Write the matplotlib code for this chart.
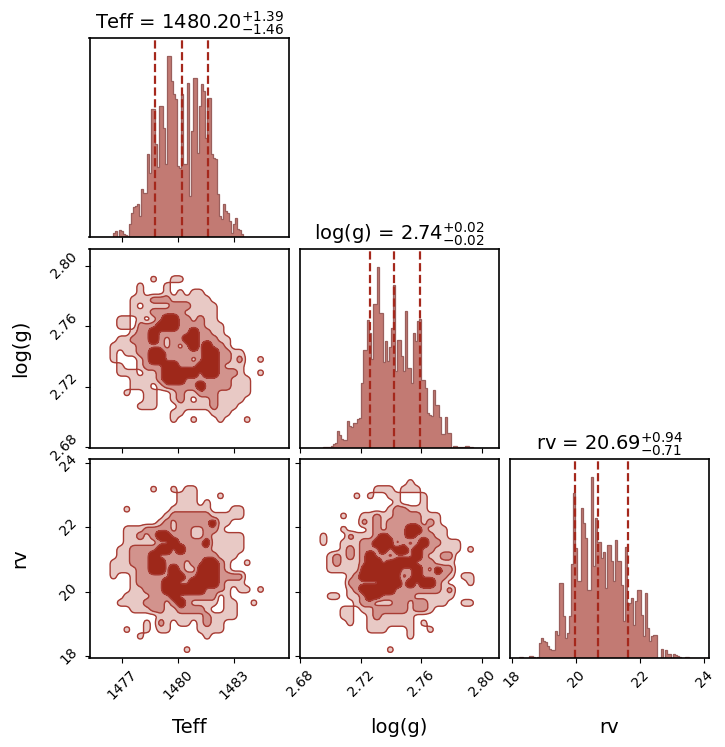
import numpy as np
import matplotlib
matplotlib.use('Agg')
from matplotlib import pyplot as plt

# parameter ranges shown on the axes
teff_lim = (1475.24, 1485.93)
logg_lim = (2.6796, 2.8113)
rv_lim = (17.93, 24.15)

teff_ticks = [1477, 1480, 1483]
logg_ticks = [2.68, 2.72, 2.76, 2.80]
rv_ticks = [18, 20, 22, 24]

# 16th, 50th and 84th percentiles
teff_q = [1478.74, 1480.20, 1481.59]
logg_q = [2.726, 2.742, 2.759]
rv_q = [19.98, 20.69, 21.63]

teff_counts = [0, 0, 0, 0, 0, 0, 0, 0, 0, 0, 0, 0,
               15, 20, 3, 23, 20, 10, 8, 5,
               40, 75, 92, 95, 100, 65, 145, 135, 133, 250,
               195, 385, 385, 282, 212, 395, 395, 330, 220, 545,
               545, 470, 430, 415, 215, 210, 430, 220, 220, 465,
               125, 320, 480, 480, 255, 395, 460, 440, 300, 420,
               420, 250, 240, 235, 130, 65, 55, 100, 80, 75,
               50, 15, 40, 60, 25, 22, 10, 3, 1, 0,
               0, 0, 3, 3, 3, 3, 1, 3, 3, 0,
               0, 0, 0, 0, 0, 0, 0, 0, 0, 0]

logg_counts = [0, 0, 0, 0, 0, 0, 0, 0, 0, 0, 0, 0,
               4, 4, 4, 4, 6, 12, 15, 50, 38, 28,
               25, 25, 82, 65, 62, 75, 75, 87, 90, 195,
               292, 292, 382, 345, 265, 432, 432, 543, 403, 403,
               258, 320, 260, 302, 360, 488, 232, 322, 322, 275,
               232, 410, 240, 240, 195, 345, 320, 380, 385, 205,
               205, 180, 105, 100, 95, 175, 130, 130, 92, 42,
               42, 93, 45, 45, 0, 6, 6, 2, 2, 2,
               2, 6, 6, 4, 2, 0, 0, 0, 0, 0,
               0, 0, 0, 0, 0, 0, 0, 0]

rv_counts = [0, 0, 0, 0, 0, 3, 3, 0, 0, 0,
             5, 5, 2, 0, 2, 45, 60, 50, 47, 35,
             28, 25, 25, 80, 70, 225, 225, 125, 60, 75,
             125, 282, 495, 330, 230, 230, 452, 405, 360, 205,
             205, 545, 275, 420, 350, 350, 300, 320, 210, 340,
             340, 290, 230, 355, 290, 290, 220, 110, 335, 160,
             165, 180, 100, 170, 205, 205, 130, 65, 195, 90,
             50, 65, 70, 70, 0, 0, 28, 0, 25, 12,
             12, 0, 12, 10, 5, 2, 0, 0, 3, 3,
             0, 0, 0, 0, 0, 0, 0, 0, 0, 0]

# density class per cell (0 outside, 3 densest), top row first
teff_logg_density = [
    "", "", "", "",
    "00000000010011",
    "000000010001",
    "00000001000101011",
    "000000111222111111",
    "0000001011112221111",
    "0000001112222211111",
    "0000110101233221211",
    "00001102223332222111",
    "00000012232222232211",
    "000011222321223322211",
    "000111122221212323221",
    "00010112233222222332211",
    "00010001233222212332212001",
    "00001001222332223332111",
    "00001110112333332332221001",
    "000000111123332222222111",
    "000000111012222232222111",
    "000001001100121122211111",
    "00000000110012101121111",
    "0000000111000111112111",
    "000000000000110000111",
    "000000000000100100010001",
    "", "", "", "",
]

teff_rv_density = [
    "", "", "", "",
    "0000000001001011",
    "000000000000011100010",
    "000000000000011101",
    "00000100000011111100011",
    "00000000000122222211111",
    "000000000012122222311",
    "00000111222212211221",
    "00000112123322211211111",
    "00000111112232222311111",
    "00001122223323222211111",
    "0000112223222222222111",
    "000111222332221223321001",
    "000111122332321133321",
    "00010012222233223332222",
    "00000012222332233332111",
    "00000011222333333222101101",
    "000001111222322222201",
    "0000111122212321111011001",
    "0000001112211222210011",
    "0000000000111111121111",
    "00000000102101101211",
    "00000100101100001111",
    "000000010000000001",
    "",
    "000000000000001",
    "",
]

logg_rv_density = [
    "", "", "",
    "00000000000000001",
    "000000000001110111",
    "0000000010100110001",
    "0000000000000010001",
    "0000000000000122111",
    "000000100112112222111",
    "000000000212122222121",
    "0000001000121222332111",
    "0001000211123222322211",
    "000100111223331212322111",
    "00000012122232332322111101",
    "00001212123221222321122",
    "00001211123323333222111",
    "00001111133333322321322",
    "00000001233332312322221011",
    "00000002222233323233210001",
    "00000001233333222222212",
    "00001101123322222111111",
    "00000000122111221221110011",
    "00000011011222221221",
    "00000011001211111",
    "0000000100111111101",
    "00000000001110001001",
    "00000000000000001",
    "",
    "00000000000001",
    "",
]

hist_fill = '#c27a73'
hist_edge = '#9a5f5c'
line_col = '#a5281c'
contour_cols = ['#e8c9c5', '#d2938d', '#9e281a']
contour_edge = '#a83c34'
density_levels = [0.5, 1.4, 2.2]

W, H = 725, 747
plt.rcParams['font.family'] = 'DejaVu Sans'
fig = plt.figure(figsize=(W / 100, H / 100), dpi=100)

col_x = [89.5, 299.5, 509.5]
row_y = [38, 248.5, 458.5]
size = 199.5


def make_axes(row, col):
    left = col_x[col] / W
    bottom = 1 - (row_y[row] + size) / H
    ax = fig.add_axes([left, bottom, size / W, size / H])
    for s in ax.spines.values():
        s.set_linewidth(1.2)
    return ax


def smooth(rows, k=6):
    grid = np.array([[int(c) for c in r.ljust(30, '0')] for r in rows], dtype=float)
    grid = np.kron(grid, np.ones((k, k)))
    for width in (k, 4):
        box = np.ones(width) / width
        grid = np.apply_along_axis(lambda v: np.convolve(v, box, mode='same'), 0, grid)
        grid = np.apply_along_axis(lambda v: np.convolve(v, box, mode='same'), 1, grid)
    return grid


def draw_hist(ax, counts, lim, quantiles, ticks, title):
    edges = np.linspace(lim[0], lim[1], len(counts) + 1)
    ax.stairs(counts, edges, fill=True, color=hist_fill)
    ax.stairs(counts, edges, color=hist_edge, linewidth=0.9)
    for q in quantiles:
        ax.axvline(q, color=line_col, ls='--', lw=1.6)
    ax.set_xlim(lim)
    ax.set_ylim(0, max(counts) * 1.1)
    ax.set_yticks([])
    ax.set_xticks(ticks)
    ax.set_xticklabels([])
    ax.set_title(title, fontsize=14, pad=6)


def draw_density(ax, rows, xlim, ylim, xticks, yticks):
    z = smooth(rows)
    x = np.linspace(xlim[0], xlim[1], z.shape[1])
    y = np.linspace(ylim[1], ylim[0], z.shape[0])
    ax.contourf(x, y, z, levels=density_levels + [4], colors=contour_cols)
    ax.contour(x, y, z, levels=density_levels, colors=contour_edge, linewidths=1.0)
    ax.set_xlim(xlim)
    ax.set_ylim(ylim)
    ax.set_xticks(xticks)
    ax.set_yticks(yticks)
    ax.set_xticklabels([])
    ax.set_yticklabels([])


ax00 = make_axes(0, 0)
draw_hist(ax00, teff_counts, teff_lim, teff_q, teff_ticks,
          r"Teff = $1480.20_{-1.46}^{+1.39}$")
ax11 = make_axes(1, 1)
draw_hist(ax11, logg_counts, logg_lim, logg_q, logg_ticks,
          r"log(g) = $2.74_{-0.02}^{+0.02}$")
ax22 = make_axes(2, 2)
draw_hist(ax22, rv_counts, rv_lim, rv_q, rv_ticks,
          r"rv = $20.69_{-0.71}^{+0.94}$")

ax10 = make_axes(1, 0)
draw_density(ax10, teff_logg_density, teff_lim, logg_lim, teff_ticks, logg_ticks)
ax20 = make_axes(2, 0)
draw_density(ax20, teff_rv_density, teff_lim, rv_lim, teff_ticks, rv_ticks)
ax21 = make_axes(2, 1)
draw_density(ax21, logg_rv_density, logg_lim, rv_lim, logg_ticks, rv_ticks)

# tick labels only on the outer edge of the triangle
ax10.set_yticklabels(['%.2f' % t for t in logg_ticks], rotation=45, va='center')
ax20.set_yticklabels([str(t) for t in rv_ticks], rotation=45, va='center')
ax20.set_xticklabels([str(t) for t in teff_ticks], rotation=45, ha='center')
ax21.set_xticklabels(['%.2f' % t for t in logg_ticks], rotation=45, ha='center')
ax22.set_xticklabels([str(t) for t in rv_ticks], rotation=45, ha='center')

for ax, name in [(ax20, 'Teff'), (ax21, 'log(g)'), (ax22, 'rv')]:
    ax.set_xlabel(name, fontsize=14)
    ax.xaxis.set_label_coords(0.5, -0.3)
for ax, name in [(ax10, 'log(g)'), (ax20, 'rv')]:
    ax.set_ylabel(name, fontsize=14)
    ax.yaxis.set_label_coords(-0.3, 0.5)

fig.savefig('out.png', dpi=100)
